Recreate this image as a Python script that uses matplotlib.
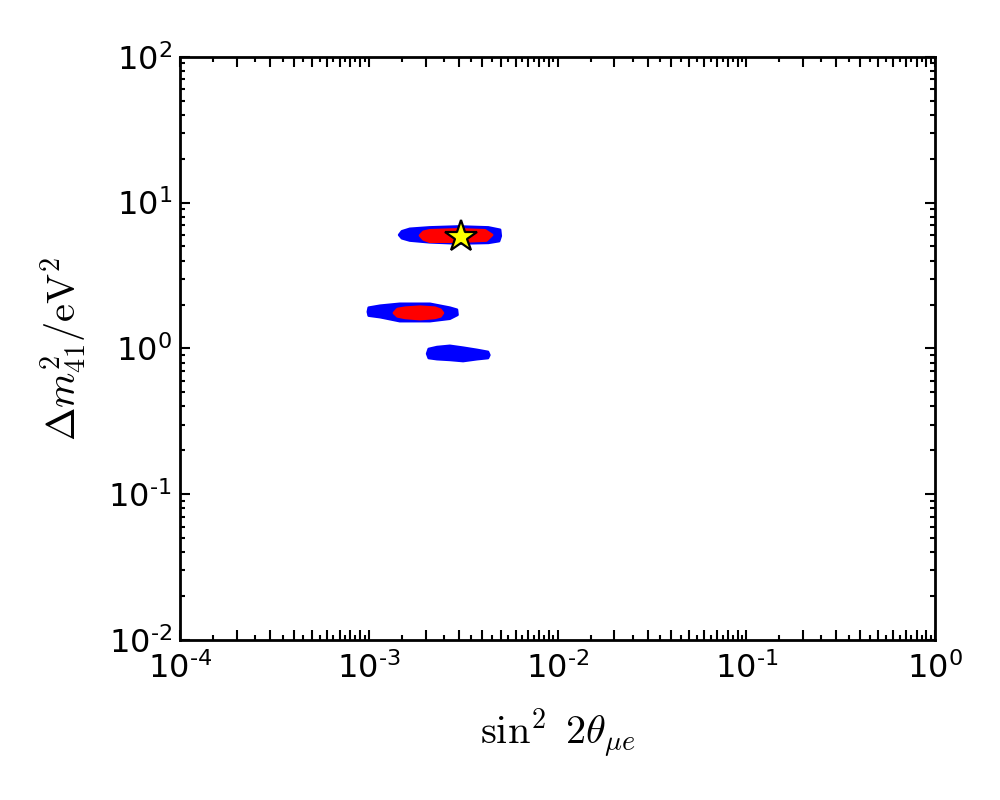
import numpy as np
import matplotlib.pyplot as plt
from matplotlib.patches import Polygon
from matplotlib.ticker import LogLocator, FuncFormatter, NullFormatter

plt.rcParams['mathtext.fontset'] = 'cm'
plt.rcParams['font.family'] = ['DejaVu Sans']

# allowed regions, outlines: (sin^2 2theta, dm41^2 [eV^2])
blue_hi_x = [1.45e-3, 1.50e-3, 1.65e-3, 2.1e-3, 3.0e-3, 4.3e-3, 4.96e-3, 5.0e-3,
             4.9e-3, 4.3e-3, 3.0e-3, 2.1e-3, 1.65e-3, 1.50e-3]
blue_hi_y = [6.0, 6.35, 6.6, 6.75, 6.85, 6.75, 6.5, 5.9,
             5.45, 5.3, 5.25, 5.35, 5.5, 5.7]

red_hi_x = [1.87e-3, 1.95e-3, 2.1e-3, 3.0e-3, 4.13e-3, 4.5e-3,
            4.2e-3, 3.0e-3, 2.1e-3, 1.95e-3]
red_hi_y = [5.95, 6.3, 6.45, 6.55, 6.45, 6.0,
            5.5, 5.4, 5.4, 5.6]

blue_mid_x = [0.99e-3, 1.0e-3, 1.15e-3, 1.46e-3, 2.11e-3, 2.69e-3, 2.93e-3,
              2.95e-3, 2.69e-3, 2.11e-3, 1.46e-3, 1.15e-3, 1.0e-3]
blue_mid_y = [1.78, 1.9, 1.96, 2.02, 2.02, 1.90, 1.84,
              1.70, 1.60, 1.54, 1.54, 1.64, 1.68]

red_mid_x = [1.36e-3, 1.42e-3, 1.56e-3, 1.87e-3, 2.24e-3, 2.40e-3,
             2.47e-3, 2.40e-3, 2.24e-3, 1.87e-3, 1.56e-3, 1.42e-3]
red_mid_y = [1.75, 1.86, 1.90, 1.93, 1.90, 1.84,
             1.75, 1.66, 1.62, 1.59, 1.62, 1.66]

blue_lo_x = [2.04e-3, 2.08e-3, 2.30e-3, 2.69e-3, 3.16e-3, 3.75e-3, 4.28e-3,
             4.35e-3, 4.28e-3, 3.75e-3, 3.16e-3, 2.69e-3, 2.30e-3, 2.08e-3]
blue_lo_y = [0.92, 0.99, 1.02, 1.04, 1.01, 0.975, 0.945,
             0.90, 0.86, 0.845, 0.82, 0.835, 0.845, 0.86]

# best fit point
best_x = 3.1e-3
best_y = 5.85

fig = plt.figure(figsize=(10, 8), dpi=100)
ax = fig.add_axes([0.18, 0.2, 0.755, 0.729])
ax.set_xscale('log')
ax.set_yscale('log')

regions = [(blue_hi_x, blue_hi_y, 'blue'), (blue_mid_x, blue_mid_y, 'blue'),
           (blue_lo_x, blue_lo_y, 'blue'), (red_hi_x, red_hi_y, 'red'),
           (red_mid_x, red_mid_y, 'red')]
for xs, ys, c in regions:
    poly = Polygon(np.column_stack([xs, ys]), closed=True, facecolor=c,
                   edgecolor=c, linewidth=2, joinstyle='round')
    ax.add_patch(poly)

ax.plot(best_x, best_y, marker='*', ms=24, mfc='yellow', mec='black', mew=1.6,
        linestyle='none')

ax.set_xlim(1e-4, 1)
ax.set_ylim(1e-2, 1e2)


def dec_fmt(v, pos):
    e = np.log10(v)
    if abs(e - round(e)) > 1e-6:
        return ''
    e = int(round(e))
    s = ('\u2010%d' % -e) if e < 0 else '%d' % e
    return r'$\mathdefault{10^{%s}}$' % s


ax.xaxis.set_major_locator(LogLocator(base=10, subs=np.arange(1, 10), numticks=50))
ax.xaxis.set_minor_locator(LogLocator(base=10, subs=np.arange(1.5, 10, 1.0), numticks=50))
ax.xaxis.set_major_formatter(FuncFormatter(dec_fmt))
ax.xaxis.set_minor_formatter(NullFormatter())
ax.yaxis.set_major_locator(LogLocator(base=10, numticks=50))
ax.yaxis.set_minor_locator(LogLocator(base=10, subs=np.arange(2, 10), numticks=50))
ax.yaxis.set_major_formatter(FuncFormatter(dec_fmt))
ax.yaxis.set_minor_formatter(NullFormatter())

ax.tick_params(which='both', direction='in', top=True, right=True, width=1.5,
               labelsize=23)
ax.tick_params(which='major', length=7.2)
ax.tick_params(axis='x', which='major', pad=9)
ax.tick_params(axis='y', which='major', pad=6)
ax.tick_params(which='minor', length=3.6)
for s in ax.spines.values():
    s.set_linewidth(2)

ax.set_xlabel(r'$\sin^2\ 2\theta_{\mu e}$', fontsize=29, labelpad=15)
ax.set_ylabel(r'$\Delta m_{41}^2/\mathrm{eV}^2$', fontsize=29, labelpad=14)

fig.savefig('out.png', dpi=100)
